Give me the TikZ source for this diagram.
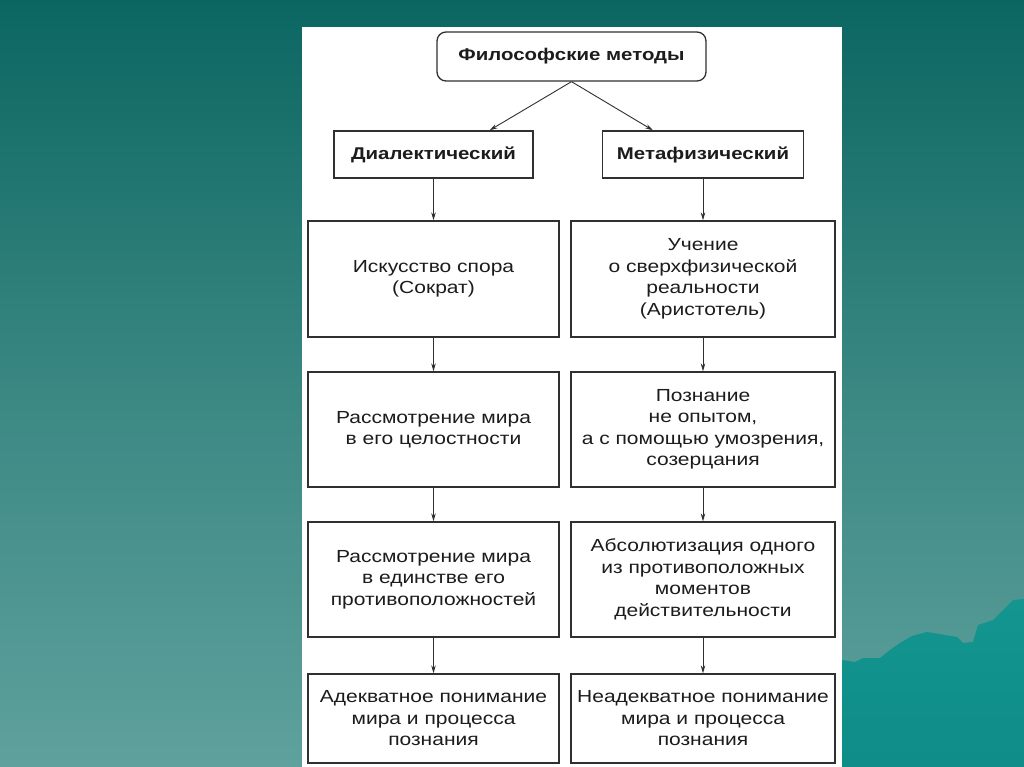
\documentclass[tikz,border=0pt]{standalone}
\usepackage{fontspec}
\setmainfont{Liberation Sans}
\newfontfamily\wsans[FakeStretch=1.2]{Liberation Sans}
\usetikzlibrary{arrows.meta}
\definecolor{bgtop}{HTML}{0B6661}
\definecolor{bgmid}{HTML}{3A8782}
\definecolor{bgbot}{HTML}{5FA19D}
\definecolor{mount}{HTML}{14958F}
\definecolor{mountdark}{HTML}{0F8D88}
\definecolor{ink}{HTML}{1C1C1C}
\definecolor{edge}{HTML}{303030}
\tikzset{
  box/.style={draw=edge, line width=1.3pt, fill=white, align=center, text=ink,
    font=\wsans\fontsize{17.5}{21.5}\selectfont, inner sep=0pt},
  headbox/.style={box, font=\wsans\bfseries\fontsize{17}{21}\selectfont},
  link/.style={draw=edge, line width=0.9pt, -{Stealth[length=8pt,width=4.5pt]}}
}
\begin{document}
\begin{tikzpicture}[x=1pt,y=-1pt]
\useasboundingbox (0,0) rectangle (1024,767);
% background
\shade[top color=bgtop, bottom color=bgbot, middle color=bgmid] (0,0) rectangle (1024,767);
% mountains
\shade[top color=mount, bottom color=mountdark]
  (842,660) -- (855,662) -- (863,658) -- (880,658) -- (890,650) -- (900,643)
  -- (912,636) -- (927,632) -- (945,635) -- (957,637) -- (963,643) -- (973,642)
  -- (978,625) -- (993,620) -- (1003,610) -- (1013,600) -- (1024,599)
  -- (1024,767) -- (842,767) -- cycle;
% white panel
\fill[white] (302,27) rectangle (842,767);
% nodes
\node[headbox, rounded corners=9pt, minimum width=269pt, minimum height=49pt] (root) at (571.5,56.5) {Философские методы};
\node[headbox, minimum width=199pt, minimum height=47pt] (dia) at (433.5,154.5) {Диалектический};
\node[headbox, minimum width=201pt, minimum height=47pt] (met) at (703,154.5) {Метафизический};
\node[box, minimum width=251pt, minimum height=116pt] (l1) at (433.5,279) {Искусство спора\\(Сократ)};
\node[box, minimum width=264pt, minimum height=116pt] (r1) at (703,279) {Учение\\о сверхфизической\\реальности\\(Аристотель)};
\node[box, minimum width=251pt, minimum height=115pt] (l2) at (433.5,429.5) {Рассмотрение мира\\в его целостности};
\node[box, minimum width=264pt, minimum height=115pt] (r2) at (703,429.5) {Познание\\не опытом,\\а с помощью умозрения,\\созерцания};
\node[box, minimum width=251pt, minimum height=115pt] (l3) at (433.5,579.5) {Рассмотрение мира\\в единстве его\\противоположностей};
\node[box, minimum width=264pt, minimum height=115pt] (r3) at (703,579.5) {Абсолютизация одного\\из противоположных\\моментов\\действительности};
\node[box, minimum width=251pt, minimum height=89pt] (l4) at (433.5,718.5) {Адекватное понимание\\мира и процесса\\познания};
\node[box, minimum width=264pt, minimum height=89pt] (r4) at (703,718.5) {Неадекватное понимание\\мира и процесса\\познания};
% connectors
\draw[link] (root.south) -- ([xshift=56pt]dia.north);
\draw[link] (root.south) -- ([xshift=-50pt]met.north);
\draw[link] (dia.south) -- (l1.north);
\draw[link] (met.south) -- (r1.north);
\draw[link] (l1.south) -- (l2.north);
\draw[link] (r1.south) -- (r2.north);
\draw[link] (l2.south) -- (l3.north);
\draw[link] (r2.south) -- (r3.north);
\draw[link] (l3.south) -- (l4.north);
\draw[link] (r3.south) -- (r4.north);
\end{tikzpicture}
\end{document}
